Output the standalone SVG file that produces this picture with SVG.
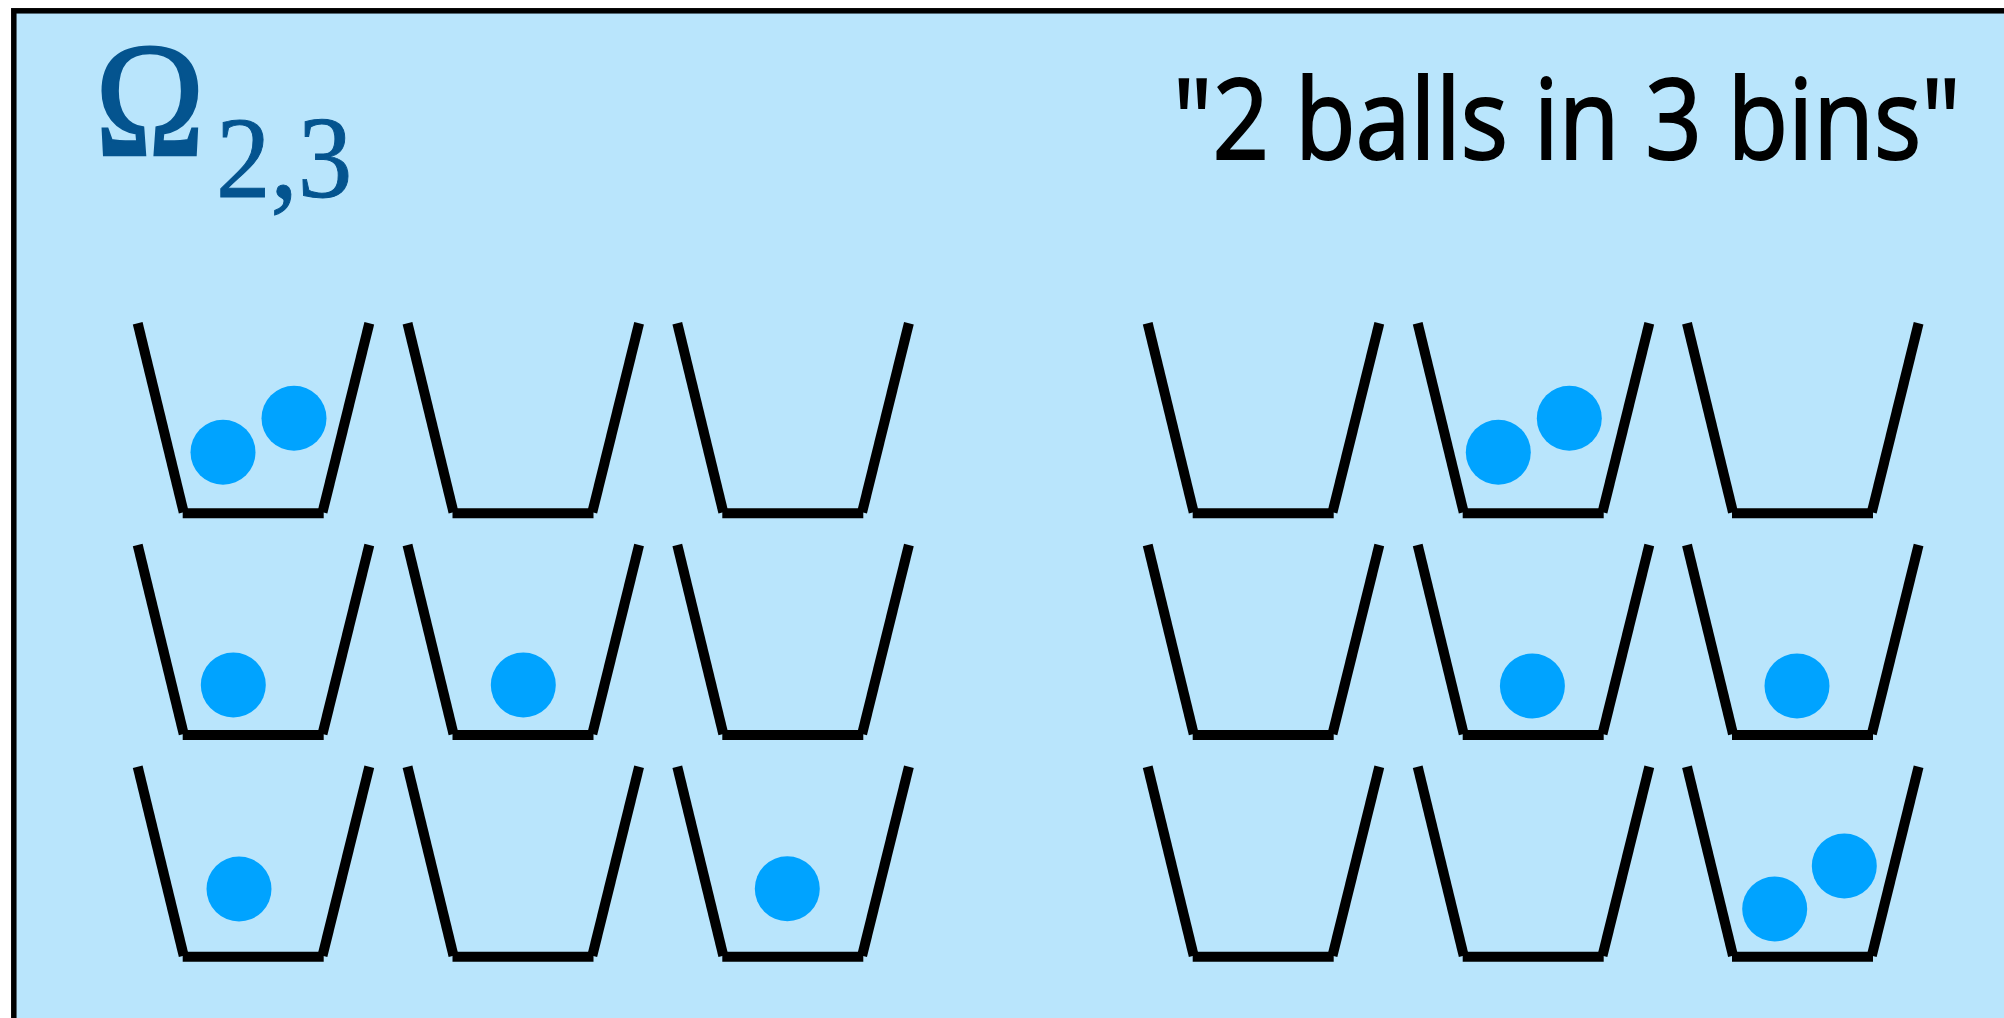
<svg xmlns="http://www.w3.org/2000/svg" xmlns:xlink="http://www.w3.org/1999/xlink" width="2004" height="1018" viewBox="0 0 2004 1018">
  <style>
    .bin line { stroke: #000; stroke-width: 10; stroke-linecap: butt; }
    .bin .base { stroke-width: 10; }
    .ball { fill: #00a3ff; }
    .omega { font-family: "Liberation Serif", "Times New Roman", serif; fill: #04548f; stroke: #04548f; stroke-width: 2.5; }
    .sub { stroke-width: 1; }
    .caption { font-family: "Open Sans", "Noto Sans", sans-serif; fill: #000; stroke: #000; stroke-width: 2; }
  </style>
  <defs>
    <g id="bin" class="bin">
      <line x1="0" y1="0" x2="46" y2="189"/>
      <line x1="231.6" y1="0" x2="184.8" y2="189"/>
      <line class="base" x1="45" y1="190" x2="186" y2="190"/>
    </g>
  </defs>
  <rect x="0" y="0" width="2004" height="1018" fill="#fff"/>
  <rect x="13.8" y="10.8" width="2100" height="1100" fill="#b9e5fc" stroke="#000" stroke-width="5.5"/>

  <g id="title">
    <text class="omega" transform="translate(95,155) scale(0.9,1)" font-size="164">Ω</text>
    <text class="omega sub" transform="translate(216,197) scale(0.94,1)" font-size="116">2,3</text>
  </g>
  <g id="caption">
    <text class="caption" transform="translate(1173,158.5) scale(0.885,1)" font-size="112">"2 balls in 3 bins"</text>
  </g>

  <!-- left configuration group -->
  <g id="r1c1"><use xlink:href="#bin" href="#bin" transform="translate(137.7,323.3)"/>
    <circle class="ball" cx="223" cy="452.3" r="32.5"/><circle class="ball" cx="294" cy="418.3" r="32.5"/></g>
  <g id="r1c2"><use xlink:href="#bin" href="#bin" transform="translate(407.5,323.3)"/></g>
  <g id="r1c3"><use xlink:href="#bin" href="#bin" transform="translate(677.3,323.3)"/></g>

  <g id="r2c1"><use xlink:href="#bin" href="#bin" transform="translate(137.7,545)"/>
    <circle class="ball" cx="233.3" cy="685" r="32.5"/></g>
  <g id="r2c2"><use xlink:href="#bin" href="#bin" transform="translate(407.5,545)"/>
    <circle class="ball" cx="523.3" cy="685" r="32.5"/></g>
  <g id="r2c3"><use xlink:href="#bin" href="#bin" transform="translate(677.3,545)"/></g>

  <g id="r3c1"><use xlink:href="#bin" href="#bin" transform="translate(137.7,766.7)"/>
    <circle class="ball" cx="239" cy="889" r="32.5"/></g>
  <g id="r3c2"><use xlink:href="#bin" href="#bin" transform="translate(407.5,766.7)"/></g>
  <g id="r3c3"><use xlink:href="#bin" href="#bin" transform="translate(677.3,766.7)"/>
    <circle class="ball" cx="787.3" cy="888.7" r="32.5"/></g>

  <!-- right configuration group -->
  <g id="r1c4"><use xlink:href="#bin" href="#bin" transform="translate(1147.7,323.3)"/></g>
  <g id="r1c5"><use xlink:href="#bin" href="#bin" transform="translate(1417.7,323.3)"/>
    <circle class="ball" cx="1498.3" cy="452.3" r="32.5"/><circle class="ball" cx="1569.3" cy="418.3" r="32.5"/></g>
  <g id="r1c6"><use xlink:href="#bin" href="#bin" transform="translate(1687,323.3)"/></g>

  <g id="r2c4"><use xlink:href="#bin" href="#bin" transform="translate(1147.7,545)"/></g>
  <g id="r2c5"><use xlink:href="#bin" href="#bin" transform="translate(1417.7,545)"/>
    <circle class="ball" cx="1532.4" cy="686" r="32.5"/></g>
  <g id="r2c6"><use xlink:href="#bin" href="#bin" transform="translate(1687,545)"/>
    <circle class="ball" cx="1797" cy="686" r="32.5"/></g>

  <g id="r3c4"><use xlink:href="#bin" href="#bin" transform="translate(1147.7,766.7)"/></g>
  <g id="r3c5"><use xlink:href="#bin" href="#bin" transform="translate(1417.7,766.7)"/></g>
  <g id="r3c6"><use xlink:href="#bin" href="#bin" transform="translate(1687,766.7)"/>
    <circle class="ball" cx="1774.7" cy="909" r="32.5"/><circle class="ball" cx="1844.3" cy="866" r="32.5"/></g>
</svg>
